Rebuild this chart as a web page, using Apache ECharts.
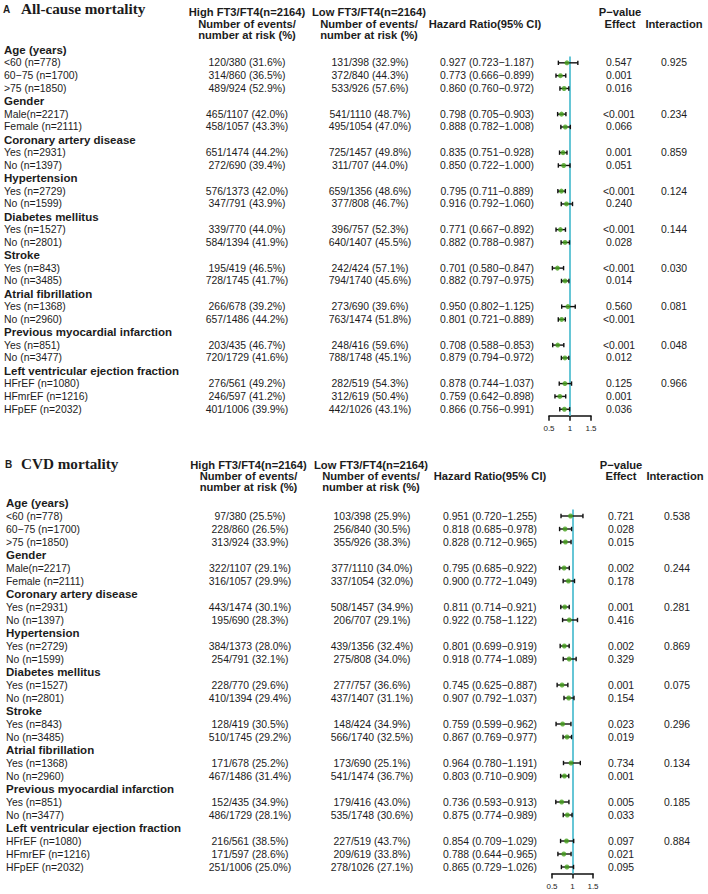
<!DOCTYPE html>
<html>
<head>
<meta charset="utf-8">
<script src="https://cdn.jsdelivr.net/npm/echarts@6/dist/echarts.min.js"></script>
<style>
  html, body { margin: 0; padding: 0; background: #fff; }
  #main { width: 708px; height: 894px; }
</style>
</head>
<body>
<div id="main"></div>
<script>
// subgroup structure (same for both panels)
const groupNames = ["Age (years)", "Gender", "Coronary artery disease", "Hypertension", "Diabetes mellitus",
  "Stroke", "Atrial fibrillation", "Previous myocardial infarction", "Left ventricular ejection fraction"];
const groupSizes = [3, 2, 2, 2, 2, 2, 2, 2, 3];
const subLabels = ["<60 (n=778)", "60\u221275 (n=1700)", ">75 (n=1850)", "Male(n=2217)", "Female (n=2111)",
  "Yes (n=2931)", "No (n=1397)", "Yes (n=2729)", "No (n=1599)", "Yes (n=1527)", "No (n=2801)",
  "Yes (n=843)", "No (n=3485)", "Yes (n=1368)", "No (n=2960)", "Yes (n=851)", "No (n=3477)",
  "HFrEF (n=1080)", "HFmrEF (n=1216)", "HFpEF (n=2032)"];
const axisTicks = [0.5, 1, 1.5];

// A: all-cause mortality
const highA = ["120/380 (31.6%)", "314/860 (36.5%)", "489/924 (52.9%)", "465/1107 (42.0%)", "458/1057 (43.3%)",
  "651/1474 (44.2%)", "272/690 (39.4%)", "576/1373 (42.0%)", "347/791 (43.9%)", "339/770 (44.0%)",
  "584/1394 (41.9%)", "195/419 (46.5%)", "728/1745 (41.7%)", "266/678 (39.2%)", "657/1486 (44.2%)",
  "203/435 (46.7%)", "720/1729 (41.6%)", "276/561 (49.2%)", "246/597 (41.2%)", "401/1006 (39.9%)"];
const lowA = ["131/398 (32.9%)", "372/840 (44.3%)", "533/926 (57.6%)", "541/1110 (48.7%)", "495/1054 (47.0%)",
  "725/1457 (49.8%)", "311/707 (44.0%)", "659/1356 (48.6%)", "377/808 (46.7%)", "396/757 (52.3%)",
  "640/1407 (45.5%)", "242/424 (57.1%)", "794/1740 (45.6%)", "273/690 (39.6%)", "763/1474 (51.8%)",
  "248/416 (59.6%)", "788/1748 (45.1%)", "282/519 (54.3%)", "312/619 (50.4%)", "442/1026 (43.1%)"];
const hrA = [0.927, 0.773, 0.860, 0.798, 0.888, 0.835, 0.850, 0.795, 0.916, 0.771, 0.882, 0.701, 0.882, 0.950, 0.801, 0.708, 0.879, 0.878, 0.759, 0.866];
const loA = [0.723, 0.666, 0.760, 0.705, 0.782, 0.751, 0.722, 0.711, 0.792, 0.667, 0.788, 0.580, 0.797, 0.802, 0.721, 0.588, 0.794, 0.744, 0.642, 0.756];
const hiA = [1.187, 0.899, 0.972, 0.903, 1.008, 0.928, 1.000, 0.889, 1.060, 0.892, 0.987, 0.847, 0.975, 1.125, 0.889, 0.853, 0.972, 1.037, 0.898, 0.991];
const pEffA = ["0.547", "0.001", "0.016", "<0.001", "0.066", "0.001", "0.051", "<0.001", "0.240", "<0.001",
  "0.028", "<0.001", "0.014", "0.560", "<0.001", "<0.001", "0.012", "0.125", "0.001", "0.036"];
const pIntA = ["0.925", "0.234", "0.859", "0.124", "0.144", "0.030", "0.081", "0.048", "0.966"];

// B: CVD mortality
const highB = ["97/380 (25.5%)", "228/860 (26.5%)", "313/924 (33.9%)", "322/1107 (29.1%)", "316/1057 (29.9%)",
  "443/1474 (30.1%)", "195/690 (28.3%)", "384/1373 (28.0%)", "254/791 (32.1%)", "228/770 (29.6%)",
  "410/1394 (29.4%)", "128/419 (30.5%)", "510/1745 (29.2%)", "171/678 (25.2%)", "467/1486 (31.4%)",
  "152/435 (34.9%)", "486/1729 (28.1%)", "216/561 (38.5%)", "171/597 (28.6%)", "251/1006 (25.0%)"];
const lowB = ["103/398 (25.9%)", "256/840 (30.5%)", "355/926 (38.3%)", "377/1110 (34.0%)", "337/1054 (32.0%)",
  "508/1457 (34.9%)", "206/707 (29.1%)", "439/1356 (32.4%)", "275/808 (34.0%)", "277/757 (36.6%)",
  "437/1407 (31.1%)", "148/424 (34.9%)", "566/1740 (32.5%)", "173/690 (25.1%)", "541/1474 (36.7%)",
  "179/416 (43.0%)", "535/1748 (30.6%)", "227/519 (43.7%)", "209/619 (33.8%)", "278/1026 (27.1%)"];
const hrB = [0.951, 0.818, 0.828, 0.795, 0.900, 0.811, 0.922, 0.801, 0.918, 0.745, 0.907, 0.759, 0.867, 0.964, 0.803, 0.736, 0.875, 0.854, 0.788, 0.865];
const loB = [0.720, 0.685, 0.712, 0.685, 0.772, 0.714, 0.758, 0.699, 0.774, 0.625, 0.792, 0.599, 0.769, 0.780, 0.710, 0.593, 0.774, 0.709, 0.644, 0.729];
const hiB = [1.255, 0.978, 0.965, 0.922, 1.049, 0.921, 1.122, 0.919, 1.089, 0.887, 1.037, 0.962, 0.977, 1.191, 0.909, 0.913, 0.989, 1.029, 0.965, 1.026];
const pEffB = ["0.721", "0.028", "0.015", "0.002", "0.178", "0.001", "0.416", "0.002", "0.329", "0.001",
  "0.154", "0.023", "0.019", "0.734", "0.001", "0.005", "0.033", "0.097", "0.021", "0.095"];
const pIntB = ["0.538", "0.244", "0.281", "0.869", "0.075", "0.296", "0.134", "0.185", "0.884"];

// rows: group header followed by its subgroups
const rows = [];
let k = 0;
groupNames.forEach((g, gi) => {
  rows.push({ label: g, group: gi, sub: -1 });
  for (let j = 0; j < groupSizes[gi]; j++) {
    rows.push({ label: subLabels[k], group: gi, sub: k, first: j === 0 });
    k++;
  }
});

const SANS = '"Liberation Sans", Arial, sans-serif';
const SERIF = '"Liberation Serif", "Times New Roman", serif';
const TXT = '#1c1c1c';
const GREEN = '#45a01c';
const BLUE = '#66c6d6';

const panels = [
  { letter: 'A', title: 'All-cause mortality', high: highA, low: lowA, hr: hrA, lo: loA, hi: hiA, pEff: pEffA, pInt: pIntA,
    row0: 50, step: 12.83, gridLeft: 549, gridW: 42, titleY: 8, headY: [12, 24, 35],
    col: { label: 4, high: 247, low: 370, hr: 487, pEff: 619, pInt: 674 },
    head: { high: 247, low: 369, hr: 485, p: 620, inter: 674 } },
  { letter: 'B', title: 'CVD mortality', high: highB, low: lowB, hr: hrB, lo: loB, hi: hiB, pEff: pEffB, pInt: pIntB,
    row0: 503, step: 13.0, gridLeft: 552, gridW: 41, titleY: 463, headY: [465, 476, 487],
    col: { label: 6, high: 250, low: 372, hr: 490, pEff: 621, pInt: 677 },
    head: { high: 248.5, low: 371, hr: 490, p: 621, inter: 675 } }
];

function txt(x, y, s, size, bold, align, family) {
  return {
    type: 'text', x: x, y: y, silent: true,
    style: { text: s, fill: TXT, fontSize: size, fontWeight: bold ? 'bold' : 'normal',
      fontFamily: family || SANS, align: align || 'left', verticalAlign: 'middle' }
  };
}

const fmt = v => v.toFixed(3);
const grids = [], xAxes = [], yAxes = [], series = [], graphics = [];

panels.forEach((p, pi) => {
  grids.push({ left: p.gridLeft, width: p.gridW, top: p.row0 - p.step / 2, height: rows.length * p.step });
  xAxes.push({
    gridIndex: pi, type: 'value', position: 'bottom',
    min: axisTicks[0], max: axisTicks[axisTicks.length - 1], interval: 0.5,
    axisLine: { show: true, onZero: false, lineStyle: { color: '#111', width: 1.5 } },
    axisTick: { show: true, inside: false, length: 5, lineStyle: { color: '#111', width: 1.5 } },
    axisLabel: { fontSize: 8, color: TXT, margin: 9, fontFamily: SANS },
    splitLine: { show: false }
  });
  yAxes.push({ gridIndex: pi, type: 'value', min: -0.5, max: rows.length - 0.5, inverse: true, show: false });

  const subRows = rows.map((r, i) => ({ r, i })).filter(o => o.r.sub >= 0);

  // table text
  series.push({
    type: 'custom', xAxisIndex: pi, yAxisIndex: pi, silent: true, clip: false,
    data: rows.map((r, i) => [1, i]),
    encode: { x: 0, y: 1 },
    renderItem: (params, api) => {
      const r = rows[params.dataIndex];
      const y = api.coord([1, params.dataIndex])[1];
      const c = p.col;
      if (r.sub < 0) {
        return { type: 'group', children: [txt(c.label, y, r.label, 11.5, true)] };
      }
      const s = r.sub;
      const kids = [
        txt(c.label, y, r.label, 10.4, false),
        txt(c.high, y, p.high[s], 10.4, false, 'center'),
        txt(c.low, y, p.low[s], 10.4, false, 'center'),
        txt(c.hr, y, fmt(p.hr[s]) + ' (' + fmt(p.lo[s]) + '\u2212' + fmt(p.hi[s]) + ')', 10.4, false, 'center'),
        txt(c.pEff, y, p.pEff[s], 10.4, false, 'center')
      ];
      if (r.first) kids.push(txt(c.pInt, y, p.pInt[r.group], 10.4, false, 'center'));
      return { type: 'group', children: kids };
    }
  });

  // confidence intervals
  series.push({
    type: 'custom', xAxisIndex: pi, yAxisIndex: pi, silent: true, clip: false, z: 3,
    data: subRows.map(o => [p.lo[o.r.sub], p.hi[o.r.sub], o.i]),
    encode: { x: [0, 1], y: 2 },
    renderItem: (params, api) => {
      const a = api.coord([api.value(0), api.value(2)]);
      const b = api.coord([api.value(1), api.value(2)]);
      const st = { stroke: '#111', lineWidth: 1.4 };
      return {
        type: 'group', children: [
          { type: 'line', shape: { x1: a[0], y1: a[1], x2: b[0], y2: b[1] }, style: st },
          { type: 'line', shape: { x1: a[0], y1: a[1] - 2.2, x2: a[0], y2: a[1] + 2.2 }, style: st },
          { type: 'line', shape: { x1: b[0], y1: b[1] - 2.2, x2: b[0], y2: b[1] + 2.2 }, style: st }
        ]
      };
    }
  });

  // point estimates + reference line at HR = 1
  series.push({
    type: 'scatter', xAxisIndex: pi, yAxisIndex: pi, silent: true, z: 4,
    symbol: 'circle', symbolSize: 5, itemStyle: { color: GREEN },
    data: subRows.map(o => [p.hr[o.r.sub], o.i]),
    markLine: {
      silent: true, symbol: 'none', label: { show: false }, z: 2,
      lineStyle: { color: BLUE, width: 2, type: 'solid' },
      data: [[{ coord: [1, 0.5] }, { coord: [1, rows.length - 0.5] }]]
    }
  });

  // panel title and column headers
  const h = p.head, hy = p.headY;
  graphics.push(txt(p.col.label - 1, p.titleY + 1, p.letter, 10, true));
  graphics.push(txt(21, p.titleY, p.title, 15.2, true, 'left', SERIF));
  graphics.push(txt(h.high, hy[0], 'High FT3/FT4(n=2164)', 11.2, true, 'center'));
  graphics.push(txt(h.high, hy[1], 'Number of events/', 11.2, true, 'center'));
  graphics.push(txt(h.high, hy[2], 'number at risk (%)', 11.2, true, 'center'));
  graphics.push(txt(h.low, hy[0], 'Low FT3/FT4(n=2164)', 11.2, true, 'center'));
  graphics.push(txt(h.low, hy[1], 'Number of events/', 11.2, true, 'center'));
  graphics.push(txt(h.low, hy[2], 'number at risk (%)', 11.2, true, 'center'));
  graphics.push(txt(h.hr, hy[1], 'Hazard Ratio(95% CI)', 11.2, true, 'center'));
  graphics.push(txt(h.p, hy[0], 'P\u2212value', 11.2, true, 'center'));
  graphics.push(txt(h.p, hy[1], 'Effect', 11.2, true, 'center'));
  graphics.push(txt(h.inter, hy[1], 'Interaction', 11.2, true, 'center'));
});

const chart = echarts.init(document.getElementById('main'), null, { renderer: 'svg' });
chart.setOption({
  animation: false,
  backgroundColor: '#fff',
  grid: grids,
  xAxis: xAxes,
  yAxis: yAxes,
  series: series,
  graphic: { elements: graphics }
});
</script>
</body>
</html>
